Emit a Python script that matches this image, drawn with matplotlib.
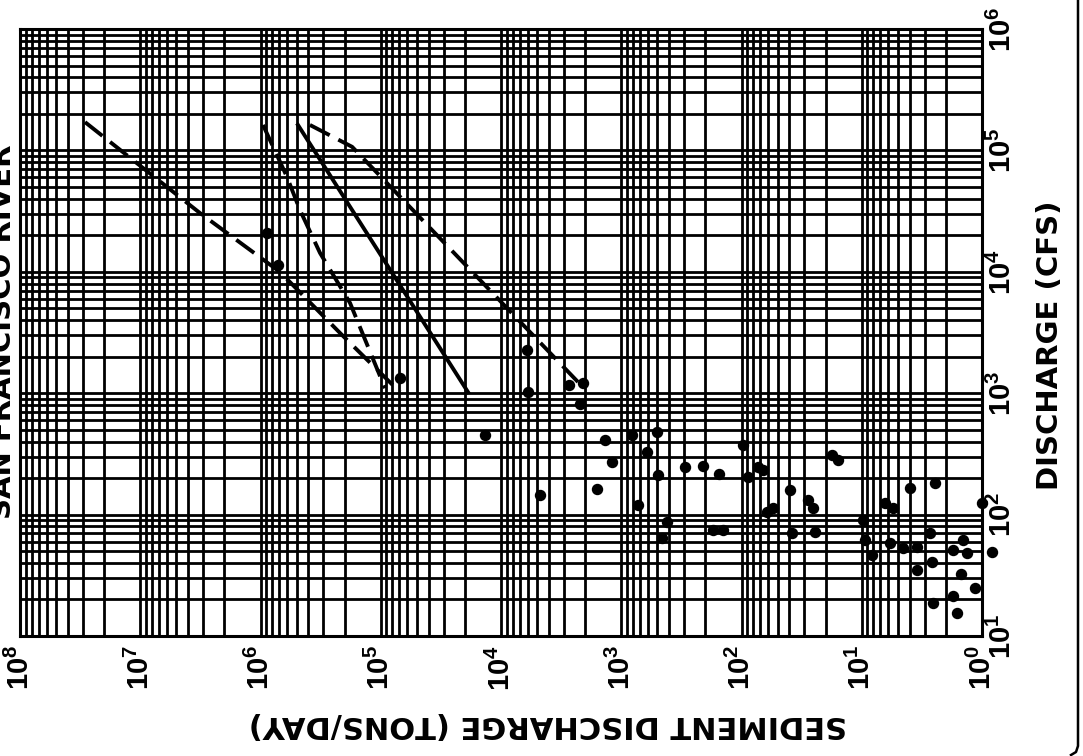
import matplotlib
matplotlib.use("Agg")
import matplotlib.pyplot as plt
from matplotlib.lines import Line2D
from matplotlib.ticker import NullFormatter, LogLocator

# ---------------- data ----------------
decades_sed = [1e8, 1e7, 1e6, 1e5, 1e4, 1e3, 1e2, 1e1, 1e0]
sed_labels = ["8", "7", "6", "5", "4", "3", "2", "1", "0"]
decades_q = [1e1, 1e2, 1e3, 1e4, 1e5, 1e6]
q_labels = ["1", "2", "3", "4", "5", "6"]

# observed points: sediment discharge (tons/day), water discharge (cfs)
pt_sed = [8.8e5, 7.1e5, 6.9e4, 6.1e3, 6.0e3, 2.7e3, 2.1e3, 2.2e3, 1.36e4, 4.7e3,
          1.36e3, 1.19e3, 1.59e3, 815, 505, 611, 494, 295, 209, 154,
          726, 417, 458, 173, 143, 97, 88, 73, 66, 39.5,
          61, 55, 28, 25.4, 24.5, 38, 17.7, 15.8, 9.8, 9.4,
          8.2, 6.4, 5.5, 4.0, 2.46, 5.8, 4.5, 3.5, 2.7, 2.6,
          3.5, 1.74, 1.44, 1.33, 1.5, 1.74, 2.55, 1.61, 1.14, 1.0, 0.83]
pt_q = [2.09e4, 1.14e4, 1.33e3, 2.27e3, 1.02e3, 1.17e3, 1.21e3, 815, 453, 145,
        412, 271, 163, 453, 479, 328, 212, 247, 251, 216,
        120, 87, 64, 75, 75, 374, 204, 247, 233, 160,
        105, 113, 132, 113, 72, 70.5, 310, 282, 90, 62,
        46.5, 125, 113, 166, 182, 58, 53, 54, 70.5, 40.7,
        35, 51, 62, 48, 32.4, 21.3, 18.7, 15.5, 24.8, 125, 49]

# curves
outer_sed = [2.88e7, 3.19e6, 6.88e5, 2.18e5, 6.92e4]
outer_q = [1.71e5, 3.05e4, 9.96e3, 3.13e3, 1.02e3]
lower_sed = [9.53e5, 6.02e5, 4.70e5, 3.20e5, 1.80e5, 9.22e4]
lower_q = [1.62e5, 6.04e4, 3.23e4, 1.43e4, 5.53e3, 1.10e3]
fit_sed = [4.88e5, 1.88e4]
fit_q = [1.62e5, 1.02e3]
upper_sed = [3.88e5, 1.73e5, 2.08e3]
upper_q = [1.62e5, 1.07e5, 1.12e3]

title = "SAN FRANCISCO RIVER"
xlabel = "SEDIMENT DISCHARGE (TONS/DAY)"
ylabel = "DISCHARGE (CFS)"

# ---------------- style ----------------
plt.rcParams['font.family'] = ['Liberation Sans', 'DejaVu Sans']
plt.rcParams['mathtext.fontset'] = 'custom'
plt.rcParams['mathtext.rm'] = 'Liberation Sans:bold'
plt.rcParams['mathtext.it'] = 'Liberation Sans:bold'
plt.rcParams['mathtext.bf'] = 'Liberation Sans:bold'
plt.rcParams['mathtext.default'] = 'rm'
plt.rcParams['lines.scale_dashes'] = False

W, H = 1083, 756
fig = plt.figure(figsize=(W / 100, H / 100), dpi=100)
L, R, T, B = 20, 982, 29, 636
ax = fig.add_axes([L / W, 1 - B / H, (R - L) / W, (B - T) / H])

ax.set_xscale('log')
ax.set_yscale('log')
ax.set_xlim(1e8, 1e0)
ax.set_ylim(1e1, 1e6)

ax.xaxis.set_major_locator(LogLocator(base=10, numticks=20))
ax.xaxis.set_minor_locator(LogLocator(base=10, subs=range(2, 10), numticks=20))
ax.yaxis.set_major_locator(LogLocator(base=10, numticks=20))
ax.yaxis.set_minor_locator(LogLocator(base=10, subs=range(2, 10), numticks=20))
ax.grid(True, which='both', color='black', lw=2.0)
ax.set_axisbelow(True)
for s in ax.spines.values():
    s.set_linewidth(2.2)

ax.set_xticks(decades_sed)
ax.set_xticklabels([r'$10^{%s}$' % s for s in sed_labels], rotation=90,
                   fontsize=21)
ax.xaxis.set_minor_formatter(NullFormatter())
ax.yaxis.tick_right()
ax.set_yticks(decades_q)
ax.set_yticklabels([r'$10^{%s}$' % s for s in q_labels], rotation=90,
                   fontsize=21)
ax.yaxis.set_minor_formatter(NullFormatter())
for lab in ax.get_yticklabels():
    lab.set_va('center')
    lab.set_ha('left')
ax.tick_params(which='both', length=0)
ax.tick_params(axis='x', pad=6.5)
ax.tick_params(axis='y', pad=4)

# curves
ax.plot(outer_sed, outer_q, color='black', lw=2.8, dashes=(16, 7))
ax.plot(lower_sed, lower_q, color='black', lw=2.8, dashes=(16, 7))
ax.plot(fit_sed, fit_q, color='black', lw=2.8)
ax.plot(upper_sed, upper_q, color='black', lw=2.8, dashes=(16, 7))

# points
ax.plot(pt_sed, pt_q, 'o', color='black', ms=7.2, clip_on=False, zorder=5)

# texts
lab_font = dict(family='DejaVu Sans', fontweight='bold')
fig.text(548 / W, 1 - 725 / H, xlabel, rotation=180, ha='center', va='center',
         fontsize=22, **lab_font)
fig.text(1050 / W, 1 - 345 / H, ylabel, rotation=90, ha='center', va='center',
         fontsize=21, **lab_font)
fig.text(3 / W, 1 - 332 / H, title, rotation=90, ha='center', va='center',
         fontsize=21, **lab_font)

# page border (right edge with rounded corner)
fig.add_artist(Line2D([1078 / W, 1078 / W, 1076 / W, 1071 / W],
                      [1.0, 1 - 746 / H, 1 - 752 / H, 1 - 755 / H],
                      transform=fig.transFigure, color='black', lw=1.8))

fig.savefig('out.png', dpi=100)
